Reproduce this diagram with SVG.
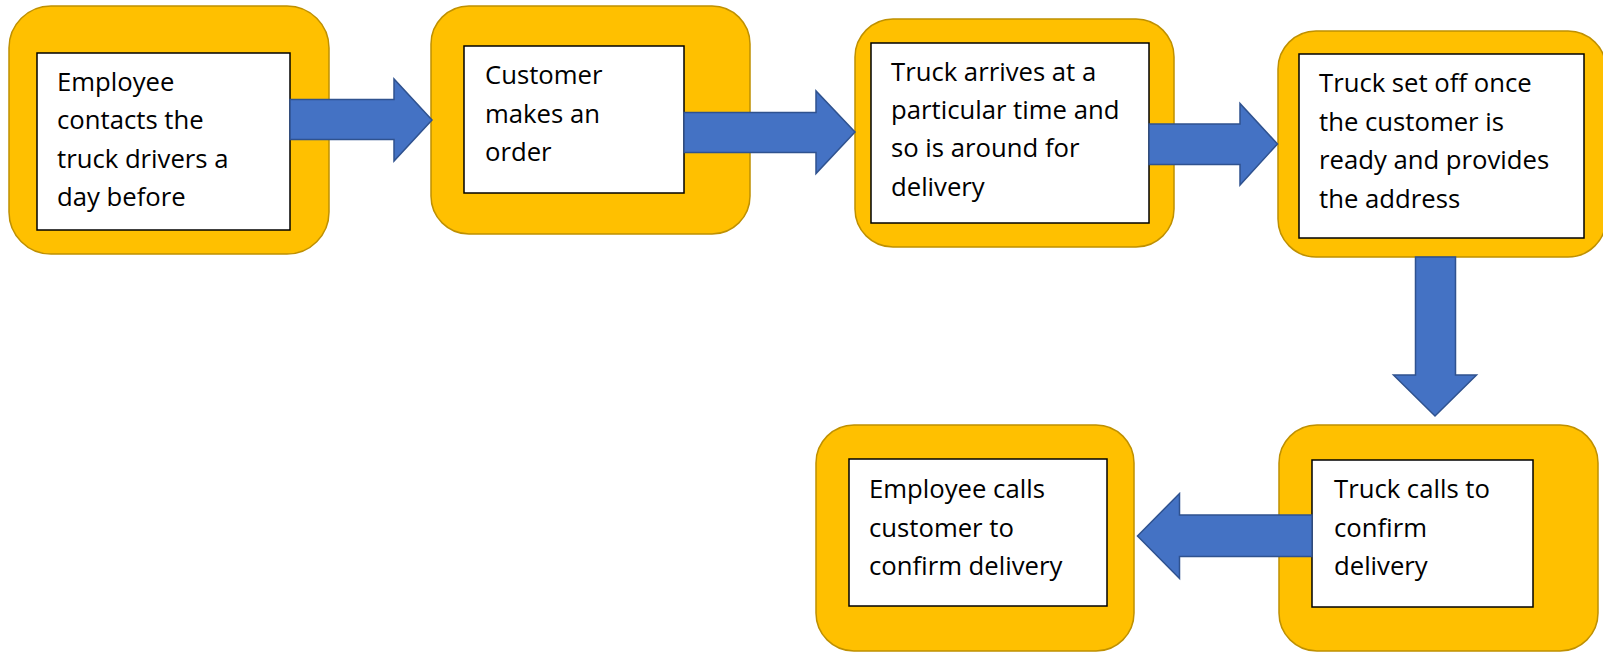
<svg xmlns="http://www.w3.org/2000/svg" width="1603" height="652" viewBox="0 0 1603 652">
  <style>
    .frame { fill: #FFC000; stroke: #BF9000; stroke-width: 1.5; }
    .box { fill: #FFFFFF; stroke: #000000; stroke-width: 1.5; }
    .label { font-family: "Open Sans", "Liberation Sans", sans-serif; font-size: 25.7px; fill: #000000; }
    .arrow { fill: #4472C4; stroke: #2F528F; stroke-width: 1.5; stroke-linejoin: miter; }
  </style>

  <rect x="0" y="0" width="1603" height="652" fill="#FFFFFF"/>

  <g id="node-contact-drivers">
    <rect class="frame" x="9" y="6" width="320" height="248" rx="42" ry="42"/>
    <rect class="box" x="37" y="53" width="253" height="177"/>
    <text class="label">
      <tspan x="57" y="91">Employee</tspan>
      <tspan x="57" y="129.3">contacts the</tspan>
      <tspan x="57" y="167.6">truck drivers a</tspan>
      <tspan x="57" y="206">day before</tspan>
    </text>
  </g>

  <g id="node-customer-order">
    <rect class="frame" x="431" y="6" width="319" height="228" rx="38" ry="38"/>
    <rect class="box" x="464" y="46" width="220" height="147"/>
    <text class="label">
      <tspan x="485" y="84">Customer</tspan>
      <tspan x="485" y="122.5">makes an</tspan>
      <tspan x="485" y="161">order</tspan>
    </text>
  </g>

  <g id="node-truck-arrives">
    <rect class="frame" x="855" y="19" width="319" height="228" rx="38" ry="38"/>
    <rect class="box" x="871" y="43" width="278" height="180"/>
    <text class="label">
      <tspan x="891" y="80.5">Truck arrives at a</tspan>
      <tspan x="891" y="119">particular time and</tspan>
      <tspan x="891" y="157.3">so is around for</tspan>
      <tspan x="891" y="196">delivery</tspan>
    </text>
  </g>

  <g id="node-truck-sets-off">
    <rect class="frame" x="1278" y="31" width="328" height="226" rx="38" ry="38"/>
    <rect class="box" x="1299" y="54" width="285" height="184"/>
    <text class="label">
      <tspan x="1319" y="92.3">Truck set off once</tspan>
      <tspan x="1319" y="131">the customer is</tspan>
      <tspan x="1319" y="169.3">ready and provides</tspan>
      <tspan x="1319" y="208">the address</tspan>
    </text>
  </g>

  <g id="node-truck-calls">
    <rect class="frame" x="1279" y="425" width="319" height="226" rx="38" ry="38"/>
    <rect class="box" x="1312" y="460" width="221" height="147"/>
    <text class="label">
      <tspan x="1334" y="498.3">Truck calls to</tspan>
      <tspan x="1334" y="537">confirm</tspan>
      <tspan x="1334" y="575.3">delivery</tspan>
    </text>
  </g>

  <g id="node-employee-calls">
    <rect class="frame" x="816" y="425" width="318" height="226" rx="38" ry="38"/>
    <rect class="box" x="849" y="459" width="258" height="147"/>
    <text class="label">
      <tspan x="869" y="498.3">Employee calls</tspan>
      <tspan x="869" y="536.7">customer to</tspan>
      <tspan x="869" y="575">confirm delivery</tspan>
    </text>
  </g>

  <!-- block arrows between the steps -->
  <g id="connectors">
    <polygon class="arrow" points="290,99.5 394,99.5 394,79 432,120 394,161 394,139.5 290,139.5"/>
    <polygon class="arrow" points="684,112.5 816,112.5 816,91 855,132 816,173.5 816,152.5 684,152.5"/>
    <polygon class="arrow" points="1149,124 1240,124 1240,103.5 1277.5,144 1240,185 1240,164.5 1149,164.5"/>
    <polygon class="arrow" points="1415.5,257 1455.5,257 1455.5,375 1476.5,375 1435,416 1393.5,375 1415.5,375"/>
    <polygon class="arrow" points="1312,515 1179.5,515 1179.5,493.5 1137.5,536 1179.5,578.5 1179.5,556.5 1312,556.5"/>
  </g>
</svg>
